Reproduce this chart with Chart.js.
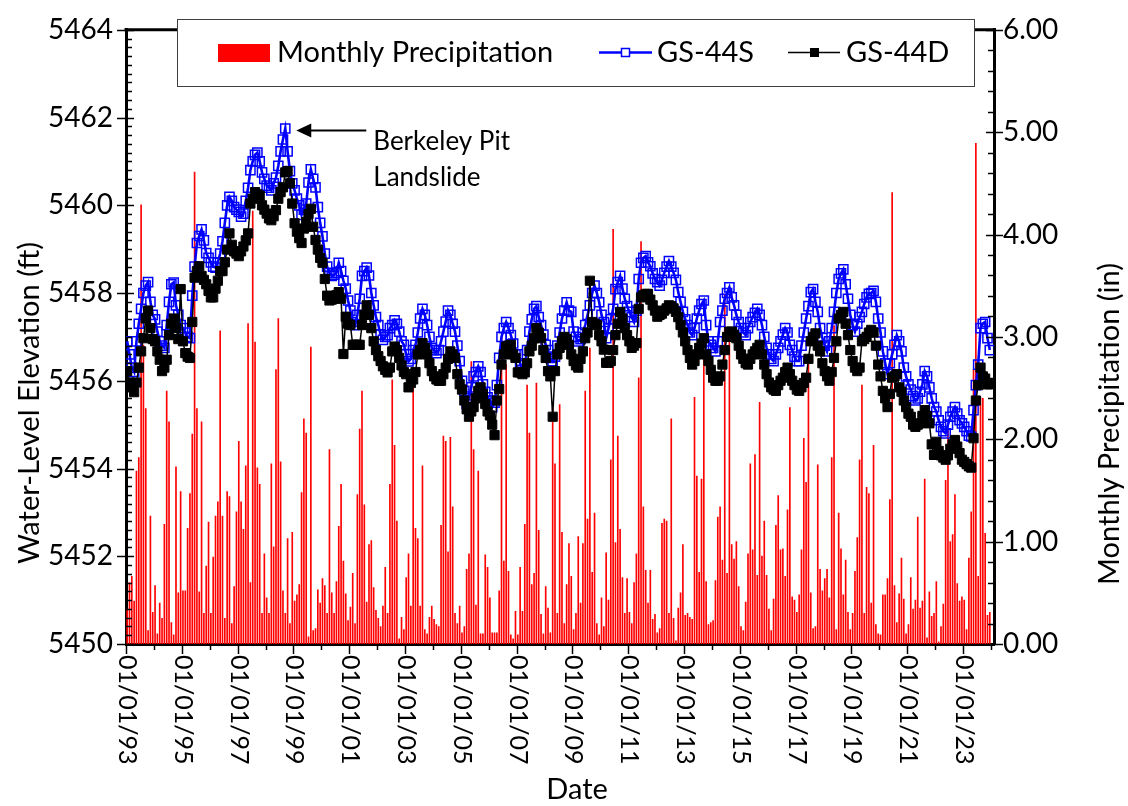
<!DOCTYPE html>
<html>
<head>
<meta charset="utf-8">
<title>GS-44S / GS-44D Water Levels</title>
<script src="https://cdn.jsdelivr.net/npm/chart.js@4.4.1/dist/chart.umd.min.js"></script>
<style>
  html, body { margin: 0; padding: 0; background: #fff; }
  #wrap { width: 1128px; height: 806px; position: relative; }
</style>
</head>
<body>
<div id="wrap"><canvas id="chart"></canvas></div>
<script>
// one value per month, index 0 = Jan 1993, last = Dec 2023

// Monthly precipitation (in)
const precip = [
  0.34, 0.60, 0.66, 0.42, 1.69, 1.82, 4.29, 2.92, 2.30, 0.13, 1.25, 0.31, // 1993
  0.57, 0.10, 0.40, 0.25, 1.17, 2.47, 2.17, 0.21, 0.09, 1.73, 0.50, 1.49, // 1994
  0.52, 0.52, 1.13, 1.47, 2.05, 4.61, 2.30, 0.51, 2.17, 0.30, 0.76, 1.19, // 1995
  0.30, 0.85, 1.25, 1.39, 3.06, 1.25, 0.25, 1.49, 1.44, 0.20, 0.56, 1.29, // 1996
  1.98, 1.39, 1.12, 1.74, 3.13, 0.60, 4.23, 2.95, 1.72, 1.56, 0.30, 0.88, // 1997
  0.45, 0.30, 1.76, 0.95, 2.68, 3.18, 1.78, 0.52, 0.30, 1.03, 0.20, 1.09, // 1998
  0.42, 0.48, 0.58, 1.48, 2.20, 2.06, 0.07, 2.90, 0.13, 0.15, 0.53, 0.40, // 1999
  0.64, 0.57, 0.30, 1.90, 0.50, 0.30, 0.61, 1.15, 1.56, 0.81, 0.49, 0.23, // 2000
  0.36, 0.69, 0.20, 1.46, 2.10, 2.47, 1.36, 0.41, 0.97, 1.01, 0.55, 0.33, // 2001
  0.25, 0.17, 0.37, 0.75, 0.30, 1.56, 2.58, 1.94, 1.20, 0.05, 0.26, 0.14, // 2002
  0.65, 0.88, 0.37, 2.53, 1.13, 1.03, 0.37, 1.74, 0.14, 0.10, 0.26, 0.37, // 2003
  0.24, 0.19, 0.17, 1.16, 2.03, 1.98, 0.90, 2.02, 1.34, 0.30, 0.20, 0.37, // 2004
  0.11, 0.17, 0.73, 0.88, 2.76, 1.90, 0.38, 1.69, 0.10, 0.10, 0.87, 0.75, // 2005
  0.45, 0.11, 0.11, 0.11, 0.52, 3.00, 0.81, 2.73, 0.71, 0.09, 0.05, 0.32, // 2006
  0.09, 0.75, 0.32, 1.17, 2.53, 2.06, 0.58, 0.69, 2.55, 1.11, 0.29, 0.10, // 2007
  0.56, 0.35, 0.11, 2.30, 1.76, 0.30, 2.34, 1.09, 0.20, 0.58, 0.98, 0.66, // 2008
  0.14, 0.30, 1.05, 0.40, 0.98, 2.47, 1.22, 2.89, 0.70, 1.28, 0.20, 0.09, // 2009
  0.45, 0.17, 0.89, 0.43, 1.80, 4.05, 0.99, 2.03, 1.12, 0.65, 0.30, 0.64, // 2010
  0.31, 0.20, 0.60, 0.88, 2.60, 3.93, 1.34, 0.72, 0.40, 0.72, 0.24, 0.29, // 2011
  0.11, 0.15, 1.18, 1.22, 1.20, 0.30, 2.20, 0.25, 0.03, 0.35, 0.50, 0.97, // 2012
  0.28, 0.30, 0.26, 0.24, 2.41, 1.64, 0.70, 1.61, 2.79, 0.61, 0.19, 0.21, // 2013
  0.23, 0.62, 1.24, 1.34, 0.82, 3.41, 0.69, 2.95, 0.97, 0.83, 1.00, 0.56, // 2014
  0.17, 0.13, 0.41, 0.88, 1.76, 0.92, 1.85, 0.67, 2.36, 0.86, 1.20, 0.67, // 2015
  0.34, 0.13, 0.44, 1.16, 1.45, 0.92, 0.93, 0.66, 1.31, 2.31, 0.46, 0.43, // 2016
  0.31, 0.48, 0.92, 2.01, 1.58, 2.79, 0.50, 0.15, 0.17, 1.75, 0.73, 0.52, // 2017
  0.64, 0.73, 0.45, 1.82, 3.11, 0.14, 1.28, 0.93, 0.48, 0.82, 0.31, 0.14, // 2018
  0.30, 0.71, 1.04, 1.80, 2.53, 0.30, 1.53, 1.47, 0.40, 1.94, 0.19, 0.10, // 2019
  0.09, 0.48, 0.48, 0.64, 1.41, 4.41, 0.57, 0.21, 0.49, 0.84, 0.44, 0.10, // 2020
  0.19, 0.65, 0.34, 0.43, 1.24, 0.35, 0.42, 1.61, 0.06, 0.51, 0.27, 0.30, // 2021
  0.61, 0.02, 0.17, 0.39, 1.60, 2.10, 1.00, 1.07, 1.46, 0.59, 0.42, 0.46, // 2022
  0.43, 0.14, 0.84, 1.29, 2.68, 4.89, 0.66, 2.41, 2.40, 1.08, 0.28, 0.31  // 2023
];

// GS-44S water level (ft)
const gs44s = [
  5456.90, 5456.60, 5456.30, 5456.20, 5456.90, 5457.30, 5457.64, 5458.00, 5458.17, 5458.25, 5457.80, 5457.50,
  5457.40, 5457.12, 5456.90, 5456.80, 5456.75, 5457.27, 5457.80, 5458.20, 5458.24, 5457.72, 5457.50, 5457.27,
  5457.20, 5457.10, 5457.00, 5456.97, 5457.94, 5458.60, 5459.14, 5459.30, 5459.45, 5459.20, 5458.91, 5458.80,
  5458.70, 5458.60, 5458.58, 5458.70, 5458.90, 5459.18, 5459.60, 5460.00, 5460.19, 5460.10, 5459.96, 5459.90,
  5459.85, 5459.74, 5459.81, 5460.10, 5460.40, 5460.80, 5461.00, 5461.15, 5461.20, 5461.00, 5460.75, 5460.60,
  5460.45, 5460.40, 5460.34, 5460.50, 5460.63, 5460.90, 5461.23, 5461.50, 5461.75, 5461.23, 5460.78, 5460.50,
  5460.34, 5460.15, 5460.00, 5459.78, 5459.90, 5460.04, 5460.52, 5460.82, 5460.60, 5460.41, 5459.96, 5459.60,
  5459.29, 5458.90, 5458.60, 5458.46, 5458.39, 5458.42, 5458.46, 5458.69, 5458.50, 5458.28, 5458.10, 5457.83,
  5457.60, 5457.34, 5457.27, 5457.50, 5457.87, 5458.39, 5458.50, 5458.58, 5458.40, 5458.00, 5457.72, 5457.45,
  5457.27, 5457.05, 5456.93, 5457.00, 5457.04, 5457.20, 5457.27, 5457.38, 5457.30, 5457.12, 5456.90, 5456.82,
  5456.60, 5456.44, 5456.50, 5456.70, 5456.82, 5457.10, 5457.42, 5457.64, 5457.50, 5457.27, 5457.00, 5456.75,
  5456.70, 5456.63, 5456.70, 5456.90, 5457.12, 5457.35, 5457.60, 5457.50, 5457.30, 5457.12, 5456.80, 5456.45,
  5456.00, 5455.77, 5455.47, 5455.60, 5455.85, 5456.10, 5456.20, 5456.33, 5456.20, 5455.92, 5455.75, 5455.62,
  5455.55, 5455.40, 5455.50, 5455.90, 5456.52, 5457.00, 5457.20, 5457.34, 5457.20, 5457.04, 5456.85, 5456.60,
  5456.60, 5456.40, 5456.25, 5456.35, 5456.70, 5457.12, 5457.40, 5457.64, 5457.70, 5457.45, 5457.27, 5457.05,
  5456.82, 5456.70, 5456.52, 5456.45, 5456.55, 5456.80, 5457.10, 5457.42, 5457.60, 5457.79, 5457.60, 5457.57,
  5457.12, 5457.00, 5456.90, 5456.95, 5457.10, 5457.27, 5457.50, 5457.72, 5458.00, 5458.17, 5458.00, 5457.79,
  5457.50, 5457.34, 5456.97, 5457.20, 5457.40, 5457.64, 5458.09, 5458.25, 5458.39, 5458.10, 5457.87, 5457.70,
  5457.57, 5457.45, 5457.34, 5457.60, 5458.32, 5458.69, 5458.80, 5458.84, 5458.70, 5458.61, 5458.45, 5458.32,
  5458.25, 5458.17, 5458.30, 5458.46, 5458.60, 5458.73, 5458.60, 5458.46, 5458.30, 5458.02, 5457.80, 5457.57,
  5457.40, 5457.27, 5457.10, 5457.04, 5457.20, 5457.42, 5457.60, 5457.75, 5457.83, 5457.27, 5456.90, 5456.82,
  5456.75, 5456.67, 5456.90, 5457.34, 5457.60, 5457.87, 5458.00, 5458.13, 5457.90, 5457.72, 5457.50, 5457.34,
  5457.20, 5457.10, 5457.04, 5457.20, 5457.34, 5457.45, 5457.55, 5457.64, 5457.50, 5457.27, 5457.00, 5456.75,
  5456.60, 5456.50, 5456.45, 5456.60, 5456.75, 5456.90, 5457.05, 5457.20, 5457.10, 5456.82, 5456.70, 5456.55,
  5456.45, 5456.45, 5456.80, 5457.10, 5457.42, 5457.70, 5458.02, 5458.09, 5457.80, 5457.57, 5457.20, 5456.97,
  5456.80, 5456.67, 5456.90, 5457.20, 5457.57, 5458.00, 5458.32, 5458.45, 5458.54, 5458.20, 5457.87, 5457.50,
  5457.27, 5457.12, 5457.30, 5457.45, 5457.57, 5457.75, 5457.90, 5457.98, 5458.00, 5458.05, 5457.80, 5457.42,
  5457.10, 5456.67, 5456.40, 5456.15, 5456.40, 5456.60, 5456.82, 5457.04, 5456.90, 5456.67, 5456.30, 5456.10,
  5455.92, 5455.80, 5455.65, 5455.55, 5455.60, 5455.75, 5455.92, 5456.22, 5456.10, 5455.85, 5455.60, 5455.40,
  5455.30, 5455.10, 5454.95, 5454.85, 5454.80, 5455.00, 5455.18, 5455.30, 5455.40, 5455.25, 5455.10, 5455.03,
  5454.95, 5454.85, 5454.75, 5454.73, 5455.33, 5455.90, 5456.37, 5457.20, 5457.30, 5457.34, 5456.97, 5456.70
];

// GS-44D water level (ft)
const gs44d = [
  5456.22, 5455.96, 5455.85, 5455.74, 5455.96, 5456.30, 5456.67, 5456.97, 5457.42, 5457.60, 5457.20, 5456.95,
  5456.90, 5456.67, 5456.48, 5456.22, 5456.30, 5456.48, 5457.04, 5457.30, 5457.42, 5457.20, 5456.95, 5458.09,
  5456.90, 5456.63, 5456.55, 5456.52, 5457.34, 5458.35, 5458.50, 5458.61, 5458.39, 5458.30, 5458.20, 5458.05,
  5457.90, 5457.90, 5458.10, 5458.28, 5458.50, 5458.50, 5458.70, 5458.99, 5459.36, 5459.10, 5458.95, 5458.90,
  5458.84, 5458.95, 5459.06, 5459.20, 5459.36, 5460.04, 5460.15, 5460.30, 5460.25, 5460.22, 5460.00, 5459.90,
  5459.81, 5459.70, 5459.66, 5459.75, 5459.89, 5460.15, 5460.30, 5460.41, 5460.75, 5460.78, 5460.50, 5460.04,
  5459.59, 5459.40, 5459.25, 5459.14, 5459.47, 5459.62, 5459.80, 5459.92, 5459.51, 5459.21, 5458.99, 5458.80,
  5458.69, 5458.32, 5457.94, 5457.83, 5457.85, 5457.87, 5457.95, 5458.02, 5457.87, 5456.61, 5457.46, 5457.30,
  5457.27, 5456.82, 5456.82, 5456.82, 5456.82, 5457.27, 5457.50, 5457.72, 5457.50, 5457.20, 5456.90, 5456.70,
  5456.56, 5456.45, 5456.33, 5456.25, 5456.19, 5456.30, 5456.67, 5456.78, 5456.70, 5456.52, 5456.35, 5456.20,
  5456.15, 5455.85, 5455.95, 5456.03, 5456.20, 5456.60, 5456.70, 5456.86, 5456.75, 5456.60, 5456.40, 5456.22,
  5456.10, 5456.03, 5456.00, 5456.00, 5456.15, 5456.30, 5456.50, 5456.67, 5456.60, 5456.52, 5456.15, 5455.92,
  5455.80, 5455.55, 5455.35, 5455.18, 5455.30, 5455.40, 5455.60, 5455.77, 5455.85, 5455.70, 5455.47, 5455.30,
  5455.21, 5455.00, 5454.76, 5455.55, 5455.81, 5456.37, 5456.60, 5456.78, 5456.80, 5456.82, 5456.60, 5456.52,
  5456.19, 5456.19, 5456.15, 5456.19, 5456.40, 5456.67, 5456.80, 5456.97, 5457.20, 5457.10, 5456.97, 5456.70,
  5456.52, 5456.22, 5456.10, 5455.18, 5456.22, 5456.60, 5456.75, 5456.90, 5457.00, 5456.95, 5456.82, 5456.60,
  5456.45, 5456.35, 5456.30, 5456.50, 5456.67, 5456.97, 5457.10, 5458.28, 5457.34, 5457.30, 5457.27, 5457.04,
  5456.90, 5456.71, 5456.41, 5456.41, 5456.45, 5456.70, 5457.04, 5457.30, 5457.57, 5457.42, 5457.20, 5457.04,
  5456.90, 5456.75, 5456.80, 5456.86, 5457.64, 5457.90, 5457.95, 5457.98, 5457.98, 5457.85, 5457.72, 5457.60,
  5457.46, 5457.50, 5457.53, 5457.60, 5457.65, 5457.72, 5457.70, 5457.65, 5457.57, 5457.45, 5457.27, 5457.10,
  5456.90, 5456.70, 5456.52, 5456.37, 5456.45, 5456.60, 5456.75, 5456.85, 5456.97, 5456.60, 5456.45, 5456.25,
  5456.07, 5456.00, 5456.00, 5456.10, 5456.37, 5456.70, 5457.00, 5457.12, 5457.12, 5457.05, 5456.97, 5456.80,
  5456.60, 5456.50, 5456.40, 5456.37, 5456.50, 5456.60, 5456.67, 5456.75, 5456.82, 5456.60, 5456.37, 5456.15,
  5455.96, 5455.85, 5455.80, 5455.77, 5455.90, 5456.00, 5456.07, 5456.20, 5456.30, 5456.15, 5456.00, 5455.90,
  5455.80, 5455.77, 5455.85, 5455.95, 5456.07, 5456.50, 5456.90, 5457.00, 5457.08, 5456.80, 5456.67, 5456.40,
  5456.22, 5456.10, 5456.00, 5456.20, 5456.52, 5456.90, 5457.42, 5457.50, 5457.57, 5457.30, 5457.04, 5456.70,
  5456.45, 5456.30, 5456.22, 5456.30, 5456.90, 5456.95, 5457.00, 5457.10, 5457.16, 5457.10, 5456.80, 5456.37,
  5456.10, 5455.77, 5455.60, 5455.40, 5455.70, 5456.07, 5456.10, 5456.15, 5455.85, 5455.75, 5455.55, 5455.40,
  5455.25, 5455.18, 5455.00, 5454.95, 5455.00, 5455.03, 5455.20, 5455.33, 5455.20, 5455.03, 5454.55, 5454.31,
  5454.61, 5454.40, 5454.30, 5454.25, 5454.20, 5454.30, 5454.45, 5454.55, 5454.65, 5454.50, 5454.35, 5454.20,
  5454.15, 5454.10, 5454.05, 5454.02, 5454.69, 5455.55, 5455.90, 5456.30, 5456.10, 5456.05, 5455.92, 5455.92
];

// x tick labels, one every 24 months starting Jan 1993
const dateLabels = ['01/01/93', '01/01/95', '01/01/97', '01/01/99', '01/01/01', '01/01/03', '01/01/05', '01/01/07',
  '01/01/09', '01/01/11', '01/01/13', '01/01/15', '01/01/17', '01/01/19', '01/01/21', '01/01/23'];

const landslideMonth = 68; // Sep 1998

const FONT = 'Lato, "Open Sans", sans-serif';

// points sit in the middle of each month
const toXY = arr => arr.map((v, i) => ({ x: i + 0.5, y: v }));

// Draws frame, tick marks, rotated date labels, axis titles, legend box and annotation
const decor = {
  id: 'decor',
  afterDraw(chart) {
    const { ctx, chartArea: a } = chart;
    const x = chart.scales.x, y = chart.scales.y, y2 = chart.scales.y2;
    ctx.save();
    ctx.strokeStyle = '#000';
    ctx.fillStyle = '#000';

    // top of the frame
    ctx.lineWidth = 3;
    ctx.beginPath();
    ctx.moveTo(a.left - 1.5, a.top);
    ctx.lineTo(a.right + 1.5, a.top);
    ctx.stroke();

    // left axis ticks (0.2 ft minor, 2 ft major)
    ctx.lineWidth = 1.5;
    for (let i = 0; i <= 70; i++) {
      const py = Math.round(y.getPixelForValue(5450 + i * 0.2)) + 0.5;
      ctx.beginPath();
      if (i % 10 === 0) { ctx.moveTo(a.left - 9, py); ctx.lineTo(a.left + 8, py); }
      else { ctx.moveTo(a.left, py); ctx.lineTo(a.left + 6, py); }
      ctx.stroke();
    }
    // right axis ticks (0.2 in minor, 1 in major)
    for (let i = 0; i <= 30; i++) {
      const py = Math.round(y2.getPixelForValue(i * 0.2)) + 0.5;
      ctx.beginPath();
      if (i % 5 === 0) { ctx.moveTo(a.right - 8, py); ctx.lineTo(a.right + 9, py); }
      else { ctx.moveTo(a.right - 6, py); ctx.lineTo(a.right, py); }
      ctx.stroke();
    }
    // bottom ticks (yearly, labelled every 2 years)
    for (let m = 0; m <= 372; m += 12) {
      const px = Math.round(x.getPixelForValue(m)) + 0.5;
      ctx.beginPath();
      ctx.moveTo(px, a.bottom);
      ctx.lineTo(px, a.bottom + (m % 24 === 0 ? 10 : 6));
      ctx.stroke();
    }

    // date labels, rotated to read top to bottom
    ctx.font = '25px ' + FONT;
    ctx.textAlign = 'left';
    ctx.textBaseline = 'middle';
    dateLabels.forEach((t, k) => {
      ctx.save();
      ctx.translate(x.getPixelForValue(k * 24) + 1, a.bottom + 11);
      ctx.rotate(Math.PI / 2);
      ctx.fillText(t, 0, 0);
      ctx.restore();
    });

    // axis titles
    ctx.font = '29px ' + FONT;
    ctx.textAlign = 'center';
    ctx.save();
    ctx.translate(30, 403);
    ctx.rotate(-Math.PI / 2);
    ctx.fillText('Water-Level Elevation (ft)', 0, 0);
    ctx.restore();
    ctx.save();
    ctx.translate(1110, 424);
    ctx.rotate(-Math.PI / 2);
    ctx.fillText('Monthly Precipitation (in)', 0, 0);
    ctx.restore();
    ctx.fillText('Date', 577, 790);

    // legend box
    ctx.fillStyle = '#fff';
    ctx.fillRect(177, 19, 797, 68);
    ctx.strokeStyle = '#404040';
    ctx.lineWidth = 1;
    ctx.strokeRect(177.5, 19.5, 797, 67);

    ctx.font = '29px ' + FONT;
    ctx.textAlign = 'left';
    ctx.textBaseline = 'alphabetic';
    ctx.fillStyle = '#ff0000';
    ctx.fillRect(218, 44, 52, 18);
    ctx.fillStyle = '#000';
    ctx.fillText('Monthly Precipitation', 277, 62);

    ctx.strokeStyle = '#0000ff';
    ctx.lineWidth = 2.6;
    ctx.beginPath(); ctx.moveTo(599, 52.5); ctx.lineTo(652, 52.5); ctx.stroke();
    ctx.lineWidth = 1.5;
    ctx.fillStyle = '#fff';
    ctx.fillRect(621.5, 48.5, 8, 8);
    ctx.strokeRect(621.5, 48.5, 8, 8);
    ctx.fillStyle = '#000';
    ctx.fillText('GS-44S', 657, 62);

    ctx.strokeStyle = '#000';
    ctx.lineWidth = 1.5;
    ctx.beginPath(); ctx.moveTo(788, 52.5); ctx.lineTo(840, 52.5); ctx.stroke();
    ctx.fillRect(810, 48, 9, 9);
    ctx.fillText('GS-44D', 846, 62);

    // Berkeley Pit landslide annotation, pointing at the GS-44S peak
    const tx = x.getPixelForValue(landslideMonth + 0.5) + 11;
    const ty = y.getPixelForValue(gs44s[landslideMonth]) + 2;
    ctx.lineWidth = 2;
    ctx.beginPath(); ctx.moveTo(tx + 12, ty); ctx.lineTo(tx + 70, ty); ctx.stroke();
    ctx.beginPath();
    ctx.moveTo(tx, ty);
    ctx.lineTo(tx + 15, ty - 7);
    ctx.lineTo(tx + 15, ty + 7);
    ctx.closePath();
    ctx.fill();
    ctx.font = '26px ' + FONT;
    ctx.fillText('Berkeley Pit', tx + 77, ty + 19);
    ctx.fillText('Landslide', tx + 77, ty + 55);

    ctx.restore();
  }
};

const tickFont = { family: FONT, size: 28 };

new Chart(document.getElementById('chart'), {
  type: 'bar',
  data: {
    datasets: [
      {
        type: 'line',
        label: 'GS-44D',
        data: toXY(gs44d),
        yAxisID: 'y',
        borderColor: '#000000',
        backgroundColor: '#000000',
        borderWidth: 1.5,
        pointStyle: 'rect',
        pointRadius: 6.5,
        pointBorderWidth: 1,
        tension: 0,
        order: 0
      },
      {
        type: 'line',
        label: 'GS-44S',
        data: toXY(gs44s),
        yAxisID: 'y',
        borderColor: '#0000ff',
        backgroundColor: 'rgba(0,0,0,0)',
        borderWidth: 2.6,
        pointStyle: 'rect',
        pointRadius: 6.5,
        pointBorderWidth: 1.5,
        tension: 0,
        order: 1
      },
      {
        type: 'bar',
        label: 'Monthly Precipitation',
        data: toXY(precip),
        yAxisID: 'y2',
        backgroundColor: '#ff0000',
        borderWidth: 0,
        barThickness: 1,
        order: 2
      }
    ]
  },
  options: {
    responsive: true,
    maintainAspectRatio: false,
    animation: false,
    layout: { padding: { top: 20, left: 0, right: 0, bottom: 0 } },
    plugins: {
      legend: { display: false },
      tooltip: { enabled: false }
    },
    scales: {
      x: {
        type: 'linear',
        min: 0,
        max: 373.3,
        offset: false,
        ticks: { display: false, stepSize: 12 },
        grid: { display: false, drawTicks: false },
        border: { display: true, color: '#000', width: 3 },
        afterFit: s => { s.height = 162; }
      },
      y: {
        position: 'left',
        min: 5450,
        max: 5464,
        ticks: { stepSize: 2, color: '#000', font: tickFont, padding: 13, callback: v => String(v) },
        grid: { display: false, drawTicks: false },
        border: { display: true, color: '#000', width: 3 },
        afterFit: s => { s.width = 126; }
      },
      y2: {
        position: 'right',
        min: 0,
        max: 6,
        ticks: { stepSize: 1, color: '#000', font: tickFont, padding: 9, callback: v => v.toFixed(2) },
        grid: { display: false, drawTicks: false },
        border: { display: true, color: '#000', width: 3 },
        afterFit: s => { s.width = 134; }
      }
    }
  },
  plugins: [decor]
});
</script>
</body>
</html>
